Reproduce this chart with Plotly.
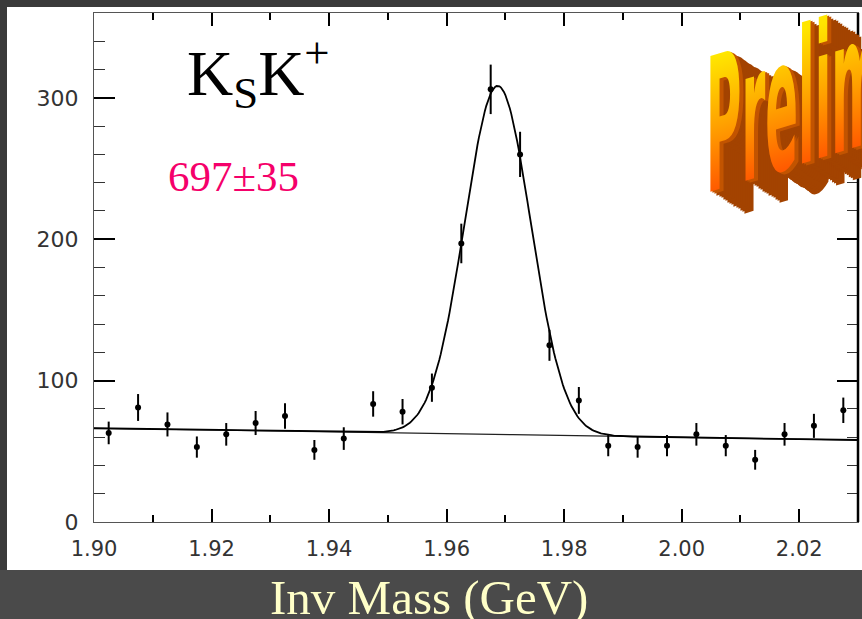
import numpy as np
import plotly.graph_objects as go

# ---- data ----
bin_centers = [1.9025, 1.9075, 1.9125, 1.9175, 1.9225, 1.9275, 1.9325, 1.9375, 1.9425,
               1.9475, 1.9525, 1.9575, 1.9625, 1.9675, 1.9725, 1.9775, 1.9825, 1.9875,
               1.9925, 1.9975, 2.0025, 2.0075, 2.0125, 2.0175, 2.0225, 2.0275]
counts = [63, 81, 69, 53, 62, 70, 75, 51, 59, 83.5, 78, 95, 197, 306, 260, 125, 86,
          54, 53, 54, 62, 54, 44, 62, 68, 79]
count_errors = [8, 9.5, 8.5, 7.5, 8, 8.5, 9, 7, 8, 9, 9, 10, 14, 17.5, 16, 11, 9.5,
                7.5, 7.5, 7.5, 8, 7.5, 7, 8, 8.5, 9]

# fit: linear background + gaussian (parameters)
bg_at_190 = 66.3
bg_slope = -64.0       # counts per GeV
peak_mean = 1.9687
peak_sigma = 0.00564
peak_amp = 246.6

x_ticks = [1.90, 1.92, 1.94, 1.96, 1.98, 2.00, 2.02]
x_tick_labels = ["1.90", "1.92", "1.94", "1.96", "1.98", "2.00", "2.02"]
y_ticks = [0, 100, 200, 300]
y_tick_labels = ["0", "100", "200", "300"]

x_range = [1.90, 2.03]
y_range = [0, 360]

# ---- figure ----
W, H = 862, 619
ML, MR, MT, MB = 94, 4, 13, 97
PW, PH = W - ML - MR, H - MT - MB


def px_to_paper_x(px):
    return (px - ML) / PW


def px_to_paper_y(py):
    return (H - MB - py) / PH


fit_x = np.linspace(x_range[0], x_range[1], 521)
bg_y = bg_at_190 + bg_slope * (fit_x - 1.90)
fit_y = bg_y + peak_amp * np.exp(-0.5 * ((fit_x - peak_mean) / peak_sigma) ** 2)

fig = go.Figure()
fig.add_trace(go.Scatter(x=fit_x, y=bg_y, mode="lines",
                         line=dict(color="#222222", width=1.2), hoverinfo="skip"))
fig.add_trace(go.Scatter(x=fit_x, y=fit_y, mode="lines",
                         line=dict(color="black", width=1.8), hoverinfo="skip"))
fig.add_trace(go.Scatter(x=bin_centers, y=counts, mode="markers",
                         marker=dict(color="black", size=6),
                         error_y=dict(type="data", array=count_errors, color="black",
                                      thickness=2, width=0)))

# white slide panel and lower band
fig.add_shape(type="rect", xref="paper", yref="paper",
              x0=px_to_paper_x(-5), x1=px_to_paper_x(W + 5),
              y0=px_to_paper_y(H + 5), y1=px_to_paper_y(570),
              fillcolor="#4a4a4a", line=dict(width=0), layer="below")
fig.add_shape(type="rect", xref="paper", yref="paper",
              x0=px_to_paper_x(7), x1=px_to_paper_x(W + 5),
              y0=px_to_paper_y(570), y1=px_to_paper_y(7),
              fillcolor="white", line=dict(width=0), layer="below")
# thicker right frame line
fig.add_shape(type="line", xref="paper", yref="paper", x0=1, x1=1, y0=0, y1=1,
              line=dict(color="black", width=2.5))

ann = []
ann.append(dict(text="K<sub>S</sub>K<sup>+</sup>", x=px_to_paper_x(185), y=px_to_paper_y(73),
                xref="paper", yref="paper", xanchor="left", yanchor="middle", showarrow=False,
                font=dict(family="Liberation Serif", size=64, color="black")))
ann.append(dict(text="697±35", x=px_to_paper_x(166), y=px_to_paper_y(177),
                xref="paper", yref="paper", xanchor="left", yanchor="middle", showarrow=False,
                font=dict(family="Liberation Serif", size=43, color="#f5006a")))
ann.append(dict(text="Inv Mass (GeV)", x=px_to_paper_x(428.5), y=px_to_paper_y(597),
                xref="paper", yref="paper", xanchor="center", yanchor="middle", showarrow=False,
                font=dict(family="Liberation Serif", size=49, color="#ffffc8")))

# "Preliminary" word-art: extrusion copies then front face
N_EXT = 16
for k in range(N_EXT, 0, -1):
    ann.append(dict(text="Preliminary", x=px_to_paper_x(704), y=px_to_paper_y(128),
                    xref="paper", yref="paper", xanchor="left", yanchor="middle",
                    showarrow=False, xshift=34 * k / N_EXT, yshift=-22 * k / N_EXT,
                    font=dict(family="DejaVu Sans", size=186, weight="bold",
                              color="#a34300" if k > 2 else "#c25400")))
ann.append(dict(text="Preliminary", x=px_to_paper_x(704), y=px_to_paper_y(128),
                xref="paper", yref="paper", xanchor="left", yanchor="middle", showarrow=False,
                font=dict(family="DejaVu Sans", size=186, weight="bold", color="#ff9900")))

fig.update_layout(
    width=W, height=H,
    margin=dict(l=ML, r=MR, t=MT, b=MB),
    paper_bgcolor="#3a3a3a",
    plot_bgcolor="white",
    showlegend=False,
    annotations=ann,
    xaxis=dict(range=x_range, tickvals=x_ticks, ticktext=x_tick_labels,
               ticks="inside", ticklen=13, tickwidth=2, tickcolor="black",
               minor=dict(dtick=0.01, tick0=1.90, ticks="inside", ticklen=7,
                          tickwidth=1.5, tickcolor="black"),
               showline=True, linecolor="#555555", linewidth=1.3, mirror="ticks",
               showgrid=False, zeroline=False, ticklabelstandoff=8,
               tickfont=dict(family="DejaVu Sans", size=21, color="#333333")),
    yaxis=dict(range=y_range, tickvals=y_ticks, ticktext=y_tick_labels,
               ticks="inside", ticklen=21, tickwidth=2, tickcolor="black",
               minor=dict(dtick=20, tick0=0, ticks="inside", ticklen=11,
                          tickwidth=1.3, tickcolor="#333333"),
               showline=True, linecolor="#555555", linewidth=1.3, mirror="ticks",
               showgrid=False, zeroline=False, ticklabelstandoff=10,
               tickfont=dict(family="DejaVu Sans", size=22, color="#333333")),
)

post_js = r"""
document.body.style.margin = '0';
document.body.style.padding = '0';
document.body.style.background = '#3a3a3a';
var gd = document.getElementById('{plot_id}');
function fixWordArt(){
  var texts = gd.querySelectorAll('g.annotation text.annotation-text');
  var svgEl = null, front = null;
  texts.forEach(function(t){
    if (t.textContent.indexOf('Preliminary') !== 0) return;
    var bb = t.getBBox();
    var ox = bb.x, oy = bb.y + bb.height / 2;
    t.setAttribute('transform', 'translate(' + ox + ',' + oy + ') matrix(0.26,-0.08,0,1,0,0) translate(' + (-ox) + ',' + (-oy) + ')');
    svgEl = t.ownerSVGElement;
    var f = (t.style.fill || '').replace(/\s/g, '');
    if (f === 'rgb(255,153,0)') front = t;
  });
  if (svgEl && front) {
    var ns = 'http://www.w3.org/2000/svg';
    if (!document.getElementById('waGrad')) {
      var defs = document.createElementNS(ns, 'defs');
      var g = document.createElementNS(ns, 'linearGradient');
      g.setAttribute('id', 'waGrad');
      g.setAttribute('x1', '0'); g.setAttribute('y1', '0');
      g.setAttribute('x2', '0'); g.setAttribute('y2', '1');
      [['0.18', '#ffe600'], ['0.5', '#ffa200'], ['0.8', '#ff5a00']].forEach(function(s){
        var st = document.createElementNS(ns, 'stop');
        st.setAttribute('offset', s[0]); st.setAttribute('stop-color', s[1]);
        g.appendChild(st);
      });
      defs.appendChild(g);
      svgEl.insertBefore(defs, svgEl.firstChild);
    }
    front.style.fill = 'url(#waGrad)';
  }
}
fixWordArt();
gd.on('plotly_afterplot', fixWordArt);
"""

fig.write_html("out.html", post_script=post_js, config={"displayModeBar": False})
